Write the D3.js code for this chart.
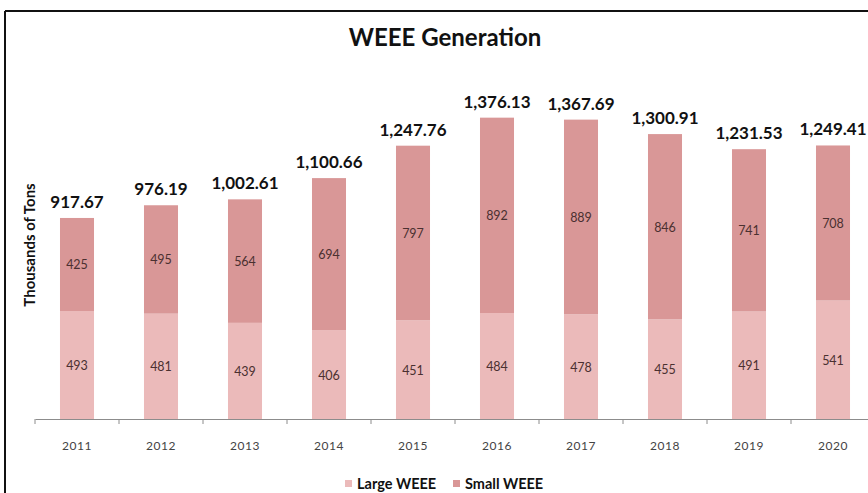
<!DOCTYPE html>
<html>
<head>
<meta charset="utf-8">
<script src="https://cdn.jsdelivr.net/npm/d3@7"></script>
<style>
  html, body { margin: 0; padding: 0; background: #fff; overflow: hidden; }
  svg { display: block; font-family: Lato, "Open Sans", sans-serif; }
</style>
</head>
<body>
<svg id="chart" width="868" height="493"></svg>
<script>
// Chart data
const years = ['2011', '2012', '2013', '2014', '2015', '2016', '2017', '2018', '2019', '2020'];
const largeWeee = [493, 481, 439, 406, 451, 484, 478, 455, 491, 541];
const smallWeee = [425, 495, 564, 694, 797, 892, 889, 846, 741, 708];
const totals = ['917.67', '976.19', '1,002.61', '1,100.66', '1,247.76', '1,376.13', '1,367.69', '1,300.91', '1,231.53', '1,249.41'];
const seriesNames = ['Large WEEE', 'Small WEEE'];
const seriesColors = ['#ebbaba', '#d99797'];

const svg = d3.select('#chart');

// Frame: only top and left edges are visible in the cropped source
svg.append('line')
  .attr('x1', 5).attr('x2', 868).attr('y1', 11).attr('y2', 11)
  .attr('stroke', '#111').attr('stroke-width', 2);
svg.append('line')
  .attr('x1', 5).attr('x2', 5).attr('y1', 11).attr('y2', 493)
  .attr('stroke', '#111').attr('stroke-width', 2);

// Scales
const x = d3.scaleBand()
  .domain(years)
  .range([35, 875])
  .paddingInner(0.595)
  .paddingOuter(0.2975);

const y = d3.scaleLinear()
  .domain([0, 1600])
  .range([419, 68.6]);

// Stack data
const rows = years.map((yr, i) => ({ year: yr, large: largeWeee[i], small: smallWeee[i] }));
const stack = d3.stack().keys(['large', 'small']);
const layers = stack(rows);

// Bars
layers.forEach((layer, li) => {
  svg.append('g')
    .selectAll('rect')
    .data(layer)
    .join('rect')
    .attr('x', (d) => x(d.data.year))
    .attr('y', (d) => y(d[1]))
    .attr('width', x.bandwidth())
    .attr('height', (d) => y(d[0]) - y(d[1]))
    .attr('fill', seriesColors[li]);

  // segment value labels
  svg.append('g')
    .selectAll('text')
    .data(layer)
    .join('text')
    .attr('x', (d) => x(d.data.year) + x.bandwidth() / 2)
    .attr('y', (d) => (y(d[0]) + y(d[1])) / 2 + 5)
    .attr('text-anchor', 'middle')
    .attr('font-size', 12.5)
    .attr('fill', '#4a3030')
    .text((d) => d[1] - d[0]);
});

// Total labels
svg.append('g')
  .selectAll('text')
  .data(rows)
  .join('text')
  .attr('x', (d) => x(d.year) + x.bandwidth() / 2)
  .attr('y', (d) => y(d.large + d.small) - 10)
  .attr('text-anchor', 'middle')
  .attr('font-size', 17)
  .attr('font-weight', 'bold')
  .attr('fill', '#111')
  .text((d, i) => totals[i]);

// X axis: labels from d3 axis, ticks at category boundaries
const xAxis = svg.append('g')
  .attr('transform', 'translate(0,419)')
  .call(d3.axisBottom(x).tickSize(0).tickSizeOuter(0).tickPadding(22));
xAxis.select('.domain').attr('stroke', '#8c8c8c');
xAxis.selectAll('text')
  .attr('font-size', 12)
  .attr('font-family', 'Lato, "Open Sans", sans-serif')
  .attr('letter-spacing', 0.5)
  .attr('fill', '#444');

const step = x.step();
const bounds = years.map((yr) => x(yr) + x.bandwidth() / 2 - step / 2);
svg.append('g')
  .selectAll('line')
  .data(bounds)
  .join('line')
  .attr('x1', (d) => d).attr('x2', (d) => d)
  .attr('y1', 419).attr('y2', 424)
  .attr('stroke', '#8c8c8c');

// Title
svg.append('text')
  .attr('x', 445).attr('y', 46)
  .attr('text-anchor', 'middle')
  .attr('font-size', 24)
  .attr('font-weight', 'bold')
  .attr('fill', '#111')
  .text('WEEE Generation');

// Y axis label
svg.append('text')
  .attr('transform', 'translate(35,245) rotate(-90)')
  .attr('text-anchor', 'middle')
  .attr('font-size', 15)
  .attr('font-weight', 'bold')
  .attr('fill', '#111')
  .text('Thousands of Tons');

// Legend
const legendX = [345, 453];
const legend = svg.append('g');
seriesNames.forEach((name, i) => {
  legend.append('rect')
    .attr('x', legendX[i]).attr('y', 480)
    .attr('width', 7).attr('height', 7)
    .attr('fill', seriesColors[i]);
  legend.append('text')
    .attr('x', legendX[i] + 12).attr('y', 489)
    .attr('font-size', 14.5)
    .attr('font-weight', 'bold')
    .attr('fill', '#111')
    .text(name);
});
</script>
</body>
</html>
